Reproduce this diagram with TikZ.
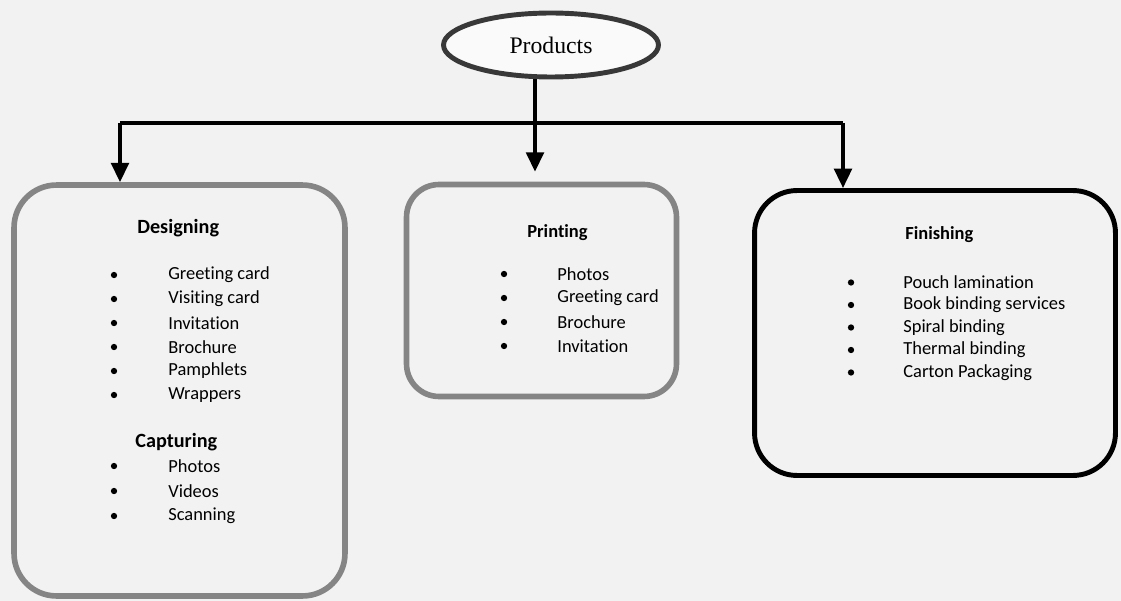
\documentclass[tikz,border=0pt]{standalone}
\usepackage{fontspec}
\setmainfont[Ligatures={NoCommon}]{Carlito}
\newfontfamily\prodfont{Liberation Serif}
\usetikzlibrary{shapes.geometric, arrows.meta}
\definecolor{paper}{rgb}{0.95,0.95,0.95}
\definecolor{boxgray}{rgb}{0.52,0.52,0.52}
\definecolor{ringgray}{rgb}{0.22,0.22,0.22}

\begin{document}
\begin{tikzpicture}[x=0.02cm, y=-0.02cm, >={Triangle[width=10pt,length=11pt]},
    group/.style={draw=boxgray, line width=3.2pt, rounded corners=0.85cm, inner sep=0pt},
    item/.style={anchor=west, inner sep=0pt, font=\fontsize{10.5}{12}\selectfont},
    head/.style={anchor=west, inner sep=0pt, font=\fontsize{10.5}{12}\selectfont\bfseries},
    dot/.style={circle, fill=black, inner sep=0pt, minimum size=3.6pt}]
    % Page
    \fill[paper] (0, 0) rectangle (1121, 601);
    \useasboundingbox (0, 0) rectangle (1121, 601);

    % Top ellipse
    \node[ellipse, draw=ringgray, line width=2.8pt, fill=white!60!paper, inner sep=0pt,
          minimum width=4.3cm, minimum height=1.28cm,
          font=\prodfont\fontsize{13.5}{15}\selectfont] (prod) at (551, 45) {Products};

    % Boxes
    \node[group, minimum width=6.62cm, minimum height=8.22cm] (design) at (179.5, 390.5) {};
    \node[group, minimum width=5.4cm, minimum height=4.24cm, rounded corners=0.65cm] (print) at (541.5, 290.5) {};
    \node[group, draw=black, line width=2.8pt, minimum width=7.22cm, minimum height=5.7cm] (finish) at (935, 333) {};

    % Connectors
    \coordinate (jl) at (120, 123);
    \coordinate (jm) at (535, 123);
    \coordinate (jr) at (843, 123);
    \draw[line width=2pt] (prod.south -| jm) -- (jm);
    \draw[line width=2pt] (jl) -- (jr);
    \draw[->, line width=2pt] (jl) -- (jl |- design.north);
    \draw[->, line width=2pt] (jm) -- ([yshift=0.2cm]jm |- print.north);
    \draw[->, line width=2pt] (jr) -- (jr |- finish.north);

    % Designing and Capturing
    \node[head, font=\fontsize{11.5}{13}\selectfont\bfseries] (dhead) at (137, 228) {Designing};
    \foreach \t [count=\i] in {Greeting card, Visiting card, Invitation, Brochure, Pamphlets, Wrappers} {
        \node[dot] (db\i) at (114, 251 + 24*\i) {};
        \node[item] (d\i) at (168, 251 + 24*\i) {\t};
    }
    \node[head, font=\fontsize{11.5}{13}\selectfont\bfseries] (chead) at (135, 442) {Capturing};
    \foreach \t [count=\i] in {Photos, Videos, Scanning} {
        \node[dot] (cb\i) at (114, 441 + 25*\i) {};
        \node[item] (c\i) at (168, 441 + 25*\i) {\t};
    }

    % Printing
    \node[head] (phead) at (527, 233) {Printing};
    \foreach \t [count=\i] in {Photos, Greeting card, Brochure, Invitation} {
        \node[dot] (pb\i) at (504, 250 + 24*\i) {};
        \node[item] (p\i) at (557, 250 + 24*\i) {\t};
    }

    % Finishing
    \node[head] (fhead) at (905, 235) {Finishing};
    \foreach \t [count=\i] in {Pouch lamination, Book binding services, Spiral binding, Thermal binding, Carton Packaging} {
        \node[dot] (fb\i) at (851, 260 + 22.5*\i) {};
        \node[item] (f\i) at (903, 260 + 22.5*\i) {\t};
    }
\end{tikzpicture}
\end{document}
